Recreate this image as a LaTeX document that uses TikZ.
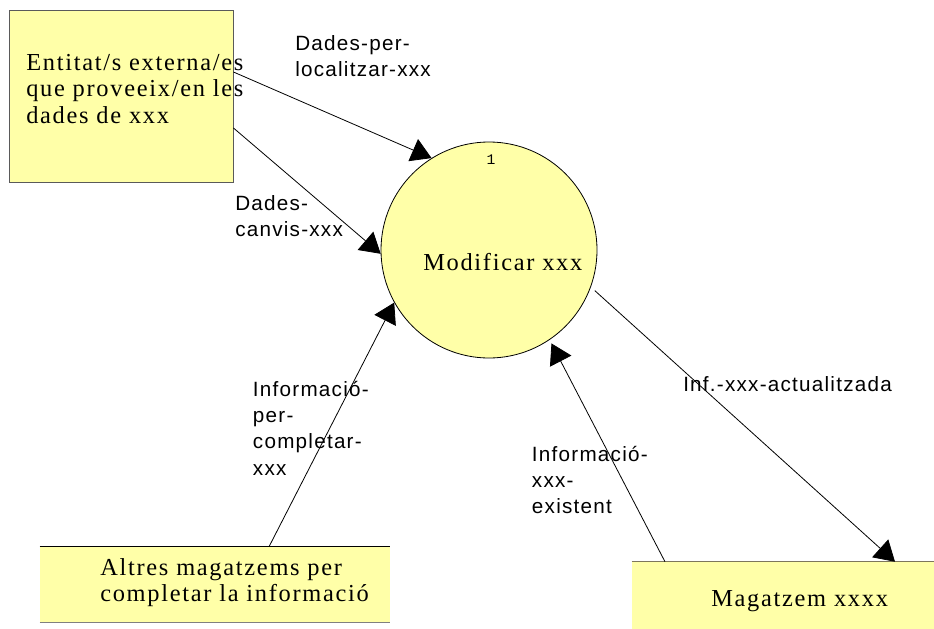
\documentclass[tikz,border=0pt]{standalone}
\usepackage{fontspec}
\usetikzlibrary{arrows.meta,calc}
% Fonts: letter-spaced serif for entities/processes/stores, sans for flow names
\newfontfamily\dfdserif[LetterSpace=7,Ligatures=NoCommon]{Liberation Serif}
\newfontfamily\dfdsans[LetterSpace=6,Ligatures=NoCommon]{Liberation Sans}
\newfontfamily\dfdmono{Liberation Mono}
\definecolor{dfdfill}{RGB}{255,255,168}
\definecolor{dfdedge}{RGB}{90,90,90}
\definecolor{storeedge}{RGB}{125,118,92}
% stacked lines whose baseline is the first line's baseline
\newcommand{\dfdlines}[1]{\begin{tabular}[t]{@{}l@{}}#1\end{tabular}}
\begin{document}
\begin{tikzpicture}[x=0.75pt,y=-0.75pt,
  seriftext/.style={anchor=base west, inner sep=0pt, font=\dfdserif\fontsize{18.3}{19.7}\selectfont},
  flowlabel/.style={anchor=base west, inner sep=0pt, font=\dfdsans\fontsize{15.5}{19.6}\selectfont},
  flow/.style={line width=0.6pt, -{Triangle[length=15pt,width=18pt]}},
]
\useasboundingbox (0,0) rectangle (934,628);

% external entity
\node[draw=dfdedge, fill=dfdfill, line width=0.7pt, minimum width=168pt, minimum height=129pt, inner sep=0pt] (ext) at (121,96) {};
\node[seriftext] (exttext) at (26,70.7) {\dfdlines{Entitat/s externa/es\\que proveeix/en les\\dades de xxx}};

% process
\node[circle, draw=black, fill=dfdfill, line width=0.6pt, minimum size=162pt, inner sep=0pt] (proc) at (489,250) {};
\node[inner sep=0pt, font=\dfdmono\fontsize{11}{11}\selectfont] (procnum) at (491,160) {1};
\node[seriftext] (proctext) at (423,270) {Modificar xxx};

% data stores
\node[fill=dfdfill, minimum width=262.5pt, minimum height=56.25pt, inner sep=0pt] (st1) at (215,584.5) {};
\draw[black, line width=0.7pt] (st1.north west) -- (st1.north east);
\draw[gray, line width=1pt] (st1.south west) -- (st1.south east);
\node[seriftext, font=\dfdserif\fontsize{18.3}{20}\selectfont] (st1text) at (100,575) {\dfdlines{Altres magatzems per\\completar la informació}};

\node[fill=dfdfill, minimum width=246pt, minimum height=73.5pt, inner sep=0pt] (st2) at (796,611) {};
\draw[storeedge, line width=1pt] (st2.north west) -- (st2.north east);
\node[seriftext] (st2text) at (711,606.7) {Magatzem xxxx};

% data flows
\draw[flow] ($(ext.east)+(0,-24)$) -- (proc.122);
\draw[flow] ($(ext.east)+(0,32)$) -- (proc.182);
\draw[flow] ($(st1.north)+(54,0)$) -- (proc.209);
\draw[flow, shorten >=3pt] ($(st2.north)+(-131,0)$) -- (proc.-56.7);
\draw[flow, shorten <=4pt] (proc.-20) -- ($(st2.north)+(99,0)$);

% flow labels
\node[flowlabel] (l1) at (295,50) {\dfdlines{Dades-per-\\localitzar-xxx}};
\node[flowlabel] (l2) at (235,210) {\dfdlines{Dades-\\canvis-xxx}};
\node[flowlabel] (l3) at (252.7,396.7) {\dfdlines{Informació-\\per-\\completar-\\xxx}};
\node[flowlabel] (l4) at (531.7,461.7) {\dfdlines{Informació-\\xxx-\\existent}};
\node[flowlabel] (l5) at (683,391.7) {Inf.-xxx-actualitzada};
\end{tikzpicture}
\end{document}
